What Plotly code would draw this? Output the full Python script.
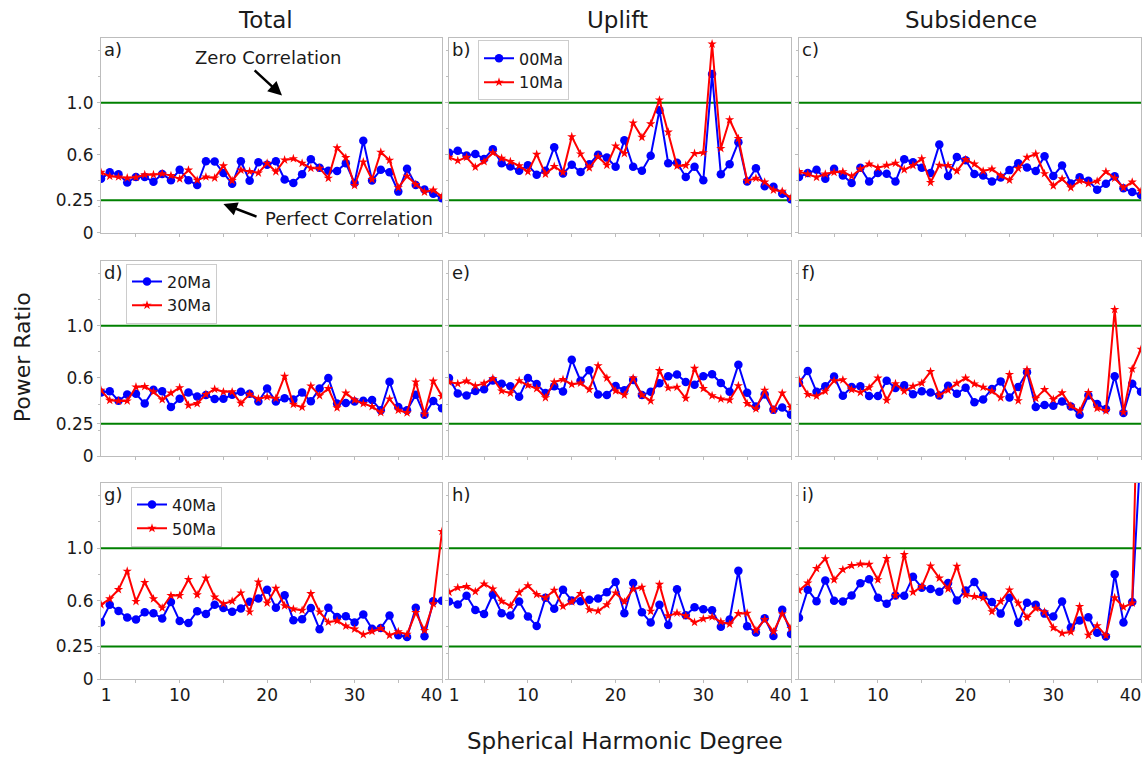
import plotly.graph_objects as go
from plotly.subplots import make_subplots

degree = list(range(1, 41))

# ---- Row 1: 00Ma (blue) / 10Ma (red)
total_00ma = [0.415,0.465,0.45,0.387,0.43,0.43,0.392,0.452,0.405,0.485,
              0.405,0.367,0.55,0.548,0.46,0.377,0.55,0.40,0.543,0.523,
              0.55,0.41,0.384,0.45,0.565,0.50,0.477,0.475,0.535,0.384,
              0.708,0.402,0.485,0.465,0.317,0.492,0.367,0.334,0.30,0.266]
total_10ma = [0.465,0.435,0.43,0.422,0.427,0.447,0.447,0.455,0.44,0.415,
              0.482,0.405,0.43,0.422,0.515,0.402,0.482,0.472,0.46,0.535,
              0.47,0.56,0.57,0.535,0.497,0.497,0.42,0.653,0.578,0.364,
              0.545,0.41,0.62,0.558,0.347,0.435,0.372,0.314,0.329,0.279]
uplift_00ma = [0.616,0.631,0.595,0.606,0.568,0.643,0.535,0.51,0.477,0.52,
               0.447,0.477,0.658,0.457,0.523,0.467,0.528,0.60,0.578,0.508,
               0.711,0.508,0.477,0.593,0.942,0.535,0.538,0.43,0.508,0.405,
               1.219,0.45,0.528,0.696,0.394,0.497,0.359,0.354,0.30,0.259]
uplift_10ma = [0.58,0.555,0.58,0.505,0.548,0.616,0.573,0.548,0.515,0.47,
               0.603,0.452,0.51,0.465,0.739,0.606,0.50,0.585,0.52,0.668,
               0.61,0.844,0.734,0.837,1.02,0.774,0.513,0.518,0.61,0.616,
               1.45,0.648,0.869,0.724,0.40,0.42,0.39,0.329,0.319,0.269]
subs_00ma = [0.43,0.46,0.485,0.415,0.492,0.44,0.384,0.50,0.394,0.46,
             0.455,0.394,0.565,0.543,0.50,0.46,0.678,0.437,0.583,0.558,
             0.452,0.44,0.394,0.425,0.482,0.535,0.503,0.475,0.588,0.437,
             0.518,0.379,0.427,0.40,0.332,0.377,0.435,0.342,0.314,0.291]
subs_10ma = [0.472,0.452,0.427,0.452,0.465,0.47,0.435,0.49,0.528,0.50,
             0.52,0.535,0.485,0.518,0.57,0.387,0.52,0.518,0.475,0.563,
             0.528,0.475,0.49,0.44,0.405,0.495,0.58,0.606,0.455,0.362,
             0.415,0.347,0.40,0.379,0.397,0.47,0.42,0.347,0.39,0.319]

# ---- Row 2: 20Ma (blue) / 30Ma (red)
total_20ma = [0.489,0.499,0.426,0.474,0.479,0.404,0.509,0.499,0.378,0.441,
              0.489,0.459,0.469,0.439,0.441,0.471,0.494,0.479,0.419,0.519,
              0.419,0.444,0.436,0.489,0.421,0.519,0.599,0.404,0.409,0.419,
              0.426,0.431,0.353,0.571,0.378,0.353,0.471,0.318,0.424,0.368]
total_30ma = [0.506,0.429,0.424,0.424,0.531,0.534,0.494,0.434,0.484,0.526,
              0.391,0.404,0.474,0.514,0.494,0.494,0.406,0.476,0.439,0.456,
              0.444,0.614,0.398,0.376,0.539,0.464,0.519,0.371,0.484,0.431,
              0.404,0.381,0.336,0.439,0.353,0.333,0.569,0.323,0.576,0.459]
uplift_20ma = [0.599,0.481,0.466,0.501,0.514,0.581,0.556,0.536,0.456,0.599,
               0.554,0.484,0.536,0.496,0.739,0.579,0.659,0.474,0.469,0.539,
               0.506,0.584,0.469,0.494,0.559,0.614,0.627,0.569,0.549,0.614,
               0.629,0.561,0.494,0.702,0.486,0.381,0.474,0.356,0.373,0.318]
uplift_30ma = [0.569,0.556,0.576,0.539,0.559,0.596,0.501,0.484,0.579,0.544,
               0.519,0.449,0.569,0.589,0.551,0.561,0.511,0.694,0.599,0.501,
               0.469,0.599,0.469,0.424,0.657,0.524,0.529,0.444,0.674,0.519,
               0.464,0.439,0.431,0.541,0.404,0.363,0.506,0.353,0.484,0.373]
subs_20ma = [0.561,0.654,0.494,0.536,0.612,0.464,0.531,0.536,0.461,0.461,
             0.579,0.524,0.544,0.476,0.499,0.489,0.466,0.541,0.479,0.526,
             0.414,0.436,0.516,0.574,0.451,0.531,0.644,0.378,0.393,0.388,
             0.419,0.381,0.318,0.466,0.401,0.363,0.614,0.331,0.556,0.494]
subs_30ma = [0.586,0.474,0.461,0.499,0.579,0.586,0.511,0.489,0.526,0.599,
             0.429,0.556,0.499,0.536,0.561,0.649,0.469,0.506,0.559,0.599,
             0.554,0.529,0.499,0.449,0.627,0.426,0.664,0.444,0.511,0.436,
             0.486,0.386,0.346,0.489,0.368,0.348,1.125,0.338,0.669,0.82]

# ---- Row 3: 40Ma (blue) / 50Ma (red)
total_40ma = [0.434,0.569,0.521,0.471,0.456,0.511,0.504,0.464,0.589,0.444,
              0.429,0.519,0.499,0.569,0.544,0.516,0.541,0.591,0.617,0.684,
              0.546,0.642,0.451,0.459,0.544,0.381,0.546,0.476,0.481,0.434,
              0.494,0.386,0.391,0.486,0.336,0.323,0.546,0.328,0.596,0.599]
total_50ma = [0.569,0.614,0.684,0.825,0.594,0.739,0.614,0.544,0.639,0.639,
              0.762,0.644,0.772,0.627,0.576,0.596,0.659,0.514,0.742,0.581,
              0.694,0.561,0.536,0.526,0.654,0.514,0.436,0.446,0.406,0.383,
              0.341,0.366,0.388,0.336,0.363,0.343,0.509,0.373,0.576,1.128]
uplift_40ma = [0.594,0.571,0.637,0.529,0.499,0.647,0.504,0.486,0.594,0.479,
               0.406,0.622,0.539,0.684,0.602,0.596,0.607,0.617,0.664,0.742,
               0.504,0.734,0.511,0.434,0.569,0.414,0.687,0.489,0.549,0.534,
               0.526,0.401,0.456,0.827,0.404,0.358,0.466,0.331,0.531,0.346]
uplift_50ma = [0.664,0.699,0.707,0.669,0.727,0.689,0.596,0.561,0.662,0.714,
               0.647,0.622,0.679,0.556,0.591,0.654,0.531,0.521,0.569,0.659,
               0.591,0.687,0.702,0.519,0.724,0.484,0.506,0.484,0.434,0.461,
               0.476,0.439,0.421,0.501,0.504,0.373,0.456,0.363,0.499,0.388]
subs_40ma = [0.469,0.684,0.596,0.754,0.599,0.594,0.639,0.732,0.764,0.622,
             0.576,0.639,0.637,0.782,0.699,0.689,0.667,0.734,0.602,0.677,
             0.742,0.637,0.589,0.501,0.622,0.431,0.584,0.569,0.501,0.479,
             0.594,0.396,0.449,0.474,0.356,0.326,0.802,0.434,0.589,1.8]
subs_50ma = [0.677,0.734,0.845,0.92,0.759,0.837,0.867,0.88,0.877,0.759,
             0.922,0.639,0.952,0.664,0.707,0.865,0.772,0.689,0.862,0.644,
             0.632,0.622,0.516,0.594,0.682,0.581,0.471,0.541,0.514,0.393,
             0.351,0.361,0.556,0.336,0.409,0.333,0.622,0.551,0.581,3.3]

column_titles = ["Total", "Uplift", "Subsidence"]
panel_labels = ["a)", "b)", "c)", "d)", "e)", "f)", "g)", "h)", "i)"]
row_ages = [("00Ma", "10Ma"), ("20Ma", "30Ma"), ("40Ma", "50Ma")]
grid = [
    [(total_00ma, total_10ma), (uplift_00ma, uplift_10ma), (subs_00ma, subs_10ma)],
    [(total_20ma, total_30ma), (uplift_20ma, uplift_30ma), (subs_20ma, subs_30ma)],
    [(total_40ma, total_50ma), (uplift_40ma, uplift_50ma), (subs_40ma, subs_50ma)],
]
ref_lines = [1.0, 0.25]            # zero / perfect correlation
ytick_vals = [0, 0.25, 0.6, 1.0]
ytick_text = ["0", "0.25", "0.6", "1.0"]
ytick_minor = [0.2, 0.4, 0.8, 1.2, 1.4]
xtick_vals = [1.6, 10, 20, 30, 38.8]
xtick_text = ["1", "10", "20", "30", "40"]
xtick_minor = [5, 10, 15, 20, 25, 30, 35, 40]

W, H = 1147, 767
FONT = "DejaVu Sans"
TXT = "#1a1a1a"
AXC = "#bdbdbd"
col_px = [(101, 442), (449, 791), (799, 1141)]
row_px = [(38, 236), (264, 462.3), (489, 688.3)]
legend_for = {(0, 1): "legend", (1, 0): "legend2", (2, 0): "legend3"}
legend_pos = {"legend": (478, 41), "legend2": (126, 267), "legend3": (131, 493)}

fig = make_subplots(rows=3, cols=3)

for r in range(3):
    for c in range(3):
        blue, red = grid[r][c]
        leg = legend_for.get((r, c))
        fig.add_trace(go.Scatter(
            x=degree, y=blue, mode="lines+markers", name=row_ages[r][0],
            line=dict(color="#0000ff", width=2),
            marker=dict(symbol="circle", size=8.5, color="#0000ff"),
            showlegend=leg is not None, legend=leg or "legend", cliponaxis=True),
            row=r + 1, col=c + 1)
        fig.add_trace(go.Scatter(
            x=degree, y=red, mode="lines+markers", name=row_ages[r][1],
            line=dict(color="#ff0000", width=2),
            marker=dict(symbol="star", size=7, color="#ff0000"),
            showlegend=leg is not None, legend=leg or "legend", cliponaxis=True),
            row=r + 1, col=c + 1)
        for yv in ref_lines:
            fig.add_hline(y=yv, line=dict(color="#008000", width=2), layer="below",
                          row=r + 1, col=c + 1)
        x0, x1 = col_px[c]
        ytop, ybot = row_px[r]
        fig.update_xaxes(
            domain=[x0 / W, x1 / W], range=[1, 40], showgrid=False, zeroline=False,
            showline=True, linecolor=AXC, linewidth=1, mirror=True,
            tickmode="array", tickvals=xtick_vals,
            ticktext=xtick_text if r == 2 else [""] * 5,
            ticks="", tickfont=dict(family=FONT, size=17, color=TXT),
            minor=dict(tickmode="array", tickvals=xtick_minor, ticks="outside",
                       ticklen=3, tickcolor=AXC, tickwidth=1, showgrid=False),
            row=r + 1, col=c + 1)
        fig.update_yaxes(
            domain=[1 - ybot / H, 1 - ytop / H], range=[0, 1.5], showgrid=False,
            zeroline=False, showline=True, linecolor=AXC, linewidth=1, mirror=True,
            tickmode="array", tickvals=ytick_vals,
            ticktext=ytick_text if c == 0 else [""] * 4,
            ticks="outside", ticklen=3, tickcolor=AXC,
            tickfont=dict(family=FONT, size=17, color=TXT),
            minor=dict(tickmode="array", tickvals=ytick_minor, ticks="outside",
                       ticklen=2, tickcolor=AXC, showgrid=False),
            row=r + 1, col=c + 1)
        fig.add_annotation(
            text=panel_labels[r * 3 + c], xref="paper", yref="paper",
            x=(x0 + 1) / W, y=1 - (ytop + 12) / H, xanchor="left", yanchor="middle",
            showarrow=False, font=dict(family=FONT, size=18, color=TXT))

# column titles
title_x = [265, 618, 971]
for i, t in enumerate(column_titles):
    fig.add_annotation(text=t, xref="paper", yref="paper", x=title_x[i] / W,
                       y=1 - 20 / H, xanchor="center", yanchor="middle",
                       showarrow=False, font=dict(family=FONT, size=23, color=TXT))

# axis titles
fig.add_annotation(text="Power Ratio", xref="paper", yref="paper", x=22 / W,
                   y=1 - 362 / H, textangle=-90, xanchor="center", yanchor="middle",
                   showarrow=False, font=dict(family=FONT, size=22, color=TXT))
fig.add_annotation(text="Spherical Harmonic Degree", xref="paper", yref="paper",
                   x=625 / W, y=1 - 751 / H, xanchor="center", yanchor="middle",
                   showarrow=False, font=dict(family=FONT, size=23, color=TXT))

# panel a annotations
fig.add_annotation(text="Zero Correlation", xref="x", yref="y", x=20.1, y=1.346,
                   showarrow=False, font=dict(family=FONT, size=18, color=TXT))
fig.add_annotation(text="", xref="x", yref="y", x=21.7, y=1.055,
                   axref="x", ayref="y", ax=18.4, ay=1.258, showarrow=True,
                   arrowhead=2, arrowsize=1.1, arrowwidth=2.5, arrowcolor="black")
fig.add_annotation(text="Perfect Correlation", xref="x", yref="y", x=29.4, y=0.114,
                   showarrow=False, font=dict(family=FONT, size=18, color=TXT))
fig.add_annotation(text="", xref="x", yref="y", x=15.0, y=0.222,
                   axref="x", ayref="y", ax=18.96, ay=0.121, showarrow=True,
                   arrowhead=2, arrowsize=1.1, arrowwidth=2.5, arrowcolor="black")

legends = {}
for name, (lx, ly) in legend_pos.items():
    legends[name] = dict(x=lx / W, y=1 - ly / H, xanchor="left", yanchor="top",
                         bgcolor="white", bordercolor="#cccccc", borderwidth=1,
                         font=dict(family=FONT, size=16, color=TXT),
                         tracegroupgap=0)

fig.update_layout(
    width=W, height=H, margin=dict(l=0, r=0, t=0, b=0),
    paper_bgcolor="white", plot_bgcolor="white",
    font=dict(family=FONT, color=TXT),
    **legends,
)

fig.write_html("out.html")
